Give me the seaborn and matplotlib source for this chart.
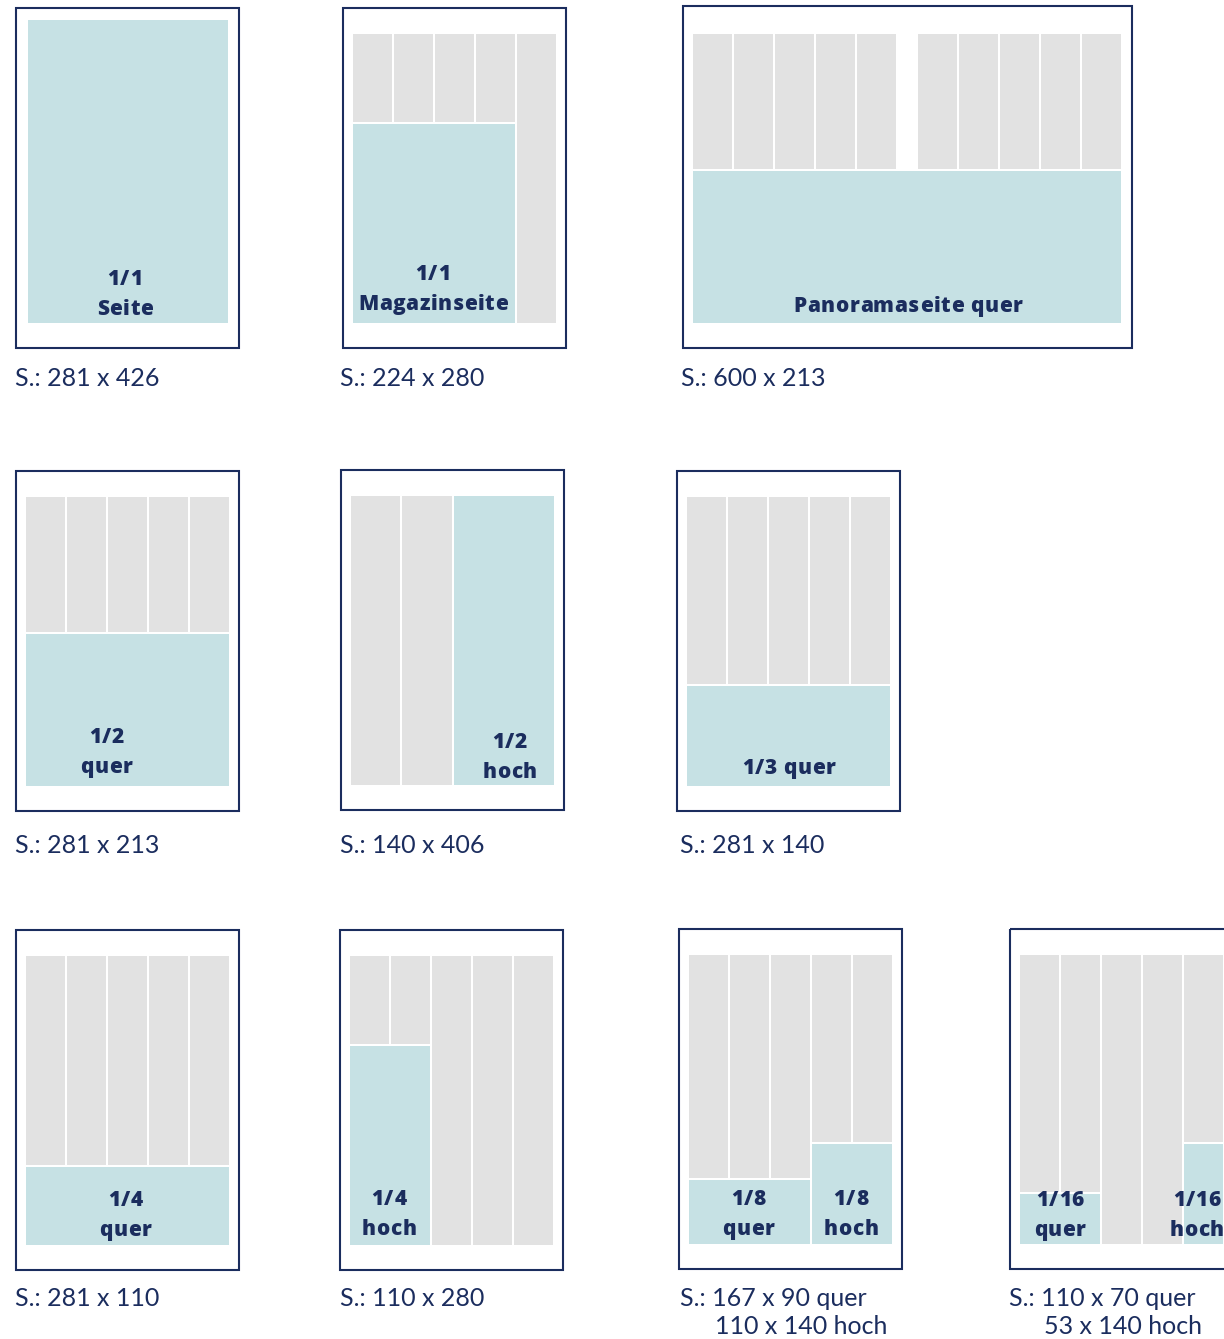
import matplotlib
matplotlib.use("Agg")
import matplotlib.pyplot as plt
from matplotlib.patches import Rectangle
from matplotlib.font_manager import FontProperties
import seaborn as sns

# ---------------- data ----------------
type_area_mm = (281, 406)          # Satzspiegel (Breite x Höhe)
label_top = ["1/1", "1/1", "", "1/2", "1/2", "", "1/4", "1/4", "1/8", "1/8", "1/16", "1/16"]
label_bottom = ["Seite", "Magazinseite", "Panoramaseite quer", "quer", "hoch", "1/3 quer",
                "quer", "hoch", "quer", "hoch", "quer", "hoch"]
ad_width_mm = [281, 224, 600, 281, 140, 281, 281, 110, 167, 110, 110, 53]
ad_height_mm = [426, 280, 213, 213, 406, 140, 110, 280, 90, 140, 70, 140]
ad_first_col = [0, 0, 0, 0, 2, 0, 0, 0, 0, 3, 0, 4]
ad_n_cols = [5, 4, 10, 5, 2, 5, 5, 2, 3, 2, 2, 1]
ad_panel = [0, 1, 2, 3, 4, 5, 6, 7, 8, 8, 9, 9]
panel_cols_per_page = [5, 5, 5, 5, 4, 5, 5, 5, 5, 5]
panel_pages = [1, 1, 2, 1, 1, 1, 1, 1, 1, 1]
caption_line1 = ["S.: 281 x 426", "S.: 224 x 280", "S.: 600 x 213", "S.: 281 x 213",
                 "S.: 140 x 406", "S.: 281 x 140", "S.: 281 x 110", "S.: 110 x 280",
                 "S.: 167 x 90 quer", "S.: 110 x 70 quer"]
caption_line2 = ["", "", "", "", "", "", "", "", "110 x 140 hoch", "53 x 140 hoch"]

# ---------------- layout (pixels) ----------------
panel_left = [15, 342, 682, 15, 340, 676, 15, 339, 678, 1009]
panel_top = [7, 7, 7, 470, 469, 470, 929, 929, 928, 928]
caption_x = [15, 340, 681, 15, 340, 680, 15, 340, 680, 1009]
caption_base = [386, 386, 386, 853, 853, 853, 1306, 1306, 1306, 1306]
label_dx = [-3, -1, 1, -21, 6, 0, -2, -1, -1, -1, 0, -7]
label_base = [8, 13, 11, 13, 7, 12, 9, 10, 9, 9, 8, 8]
PAGE_W, FRAME_H = 225, 342
INNER_DX, INNER_DY, INNER_H = 11, 27, 289
INNER_W = 203
COL_GAP, PAGE_GAP, AD_GAP = 2, 22, 2
TRACKING = 0.6   # extra letter spacing of the bold labels, px

NAVY = "#1b2d5e"
TEAL = "#c6e1e4"
GRAY = "#e2e2e2"

sns.set_theme(style="white")
plt.rcParams["font.family"] = ["Lato", "DejaVu Sans"]
label_fp = FontProperties(family=["Open Sans", "DejaVu Sans"], weight=800, size=15)

fig = plt.figure(figsize=(12.24, 13.39), dpi=100)
ax = fig.add_axes([0, 0, 1, 1])
ax.set_xlim(0, 1224)
ax.set_ylim(1339, 0)
ax.axis("off")
renderer = fig.canvas.get_renderer()

sx = INNER_H / type_area_mm[1]


def text_w(t):
    return renderer.get_text_width_height_descent(t, label_fp, ismath=False)[0]


def tracked_label(cx, y, s):
    """Bold label with letter spacing, centred on cx."""
    ref = text_w("H")
    pos = [0.0] + [text_w(s[:k] + "H") - ref for k in range(1, len(s))]
    total = text_w(s) + TRACKING * (len(s) - 1)
    x0 = cx - total / 2
    for k, ch in enumerate(s):
        if ch == " ":
            continue
        ax.text(x0 + pos[k] + TRACKING * k, y, ch, ha="left", va="baseline",
                fontproperties=label_fp, color=NAVY, zorder=6)


def columns(p):
    """x-extents of every grid column of panel p."""
    k = panel_cols_per_page[p]
    cw = (INNER_W - (k - 1) * COL_GAP) / k
    x0 = panel_left[p] + INNER_DX
    cols = []
    for pg in range(panel_pages[p]):
        base = x0 + pg * (INNER_W + PAGE_GAP)
        for c in range(k):
            left = base + c * (cw + COL_GAP)
            cols.append((left, left + cw))
    return cols


for p in range(len(panel_left)):
    n_pages = panel_pages[p]
    fw = PAGE_W * n_pages + (n_pages - 1)
    extra = 2 if n_pages > 1 else 0
    ax.add_patch(Rectangle((panel_left[p] + 1, panel_top[p] + 1 - extra), fw - 2,
                           FRAME_H - 2 + extra,
                           fill=False, edgecolor=NAVY, lw=1.5, zorder=5))
    top = panel_top[p] + INNER_DY
    bottom = panel_top[p] + INNER_DY + INNER_H
    cols = columns(p)
    ads = [i for i in range(len(ad_panel)) if ad_panel[i] == p]
    # gray column grid
    for ci, (l, r) in enumerate(cols):
        stop = bottom
        for i in ads:
            if ad_first_col[i] <= ci < ad_first_col[i] + ad_n_cols[i]:
                stop = bottom - ad_height_mm[i] * sx - AD_GAP
        if stop > top:
            ax.bar(l, stop - top, width=r - l, bottom=top, align="edge",
                   color=GRAY, linewidth=0, zorder=1)
    # ad blocks
    for i in ads:
        l = cols[ad_first_col[i]][0]
        r = cols[ad_first_col[i] + ad_n_cols[i] - 1][1]
        h = ad_height_mm[i] * sx
        if h > INNER_H:
            l, r = l + 2, r - 1
        ax.bar(l, h, width=r - l, bottom=bottom - h, align="edge",
               color=TEAL, linewidth=0, zorder=2)
        cx = (l + r) / 2 + label_dx[i]
        yb = bottom - label_base[i]
        tracked_label(cx, yb, label_bottom[i])
        if label_top[i]:
            tracked_label(cx, yb - 30, label_top[i])
    # captions
    ax.text(caption_x[p], caption_base[p], caption_line1[p], ha="left", va="baseline",
            fontsize=18, color=NAVY)
    if caption_line2[p]:
        ax.text(caption_x[p] + 35, caption_base[p] + 28, caption_line2[p], ha="left",
                va="baseline", fontsize=18, color=NAVY)

fig.savefig("out.png", dpi=100, facecolor="white")
